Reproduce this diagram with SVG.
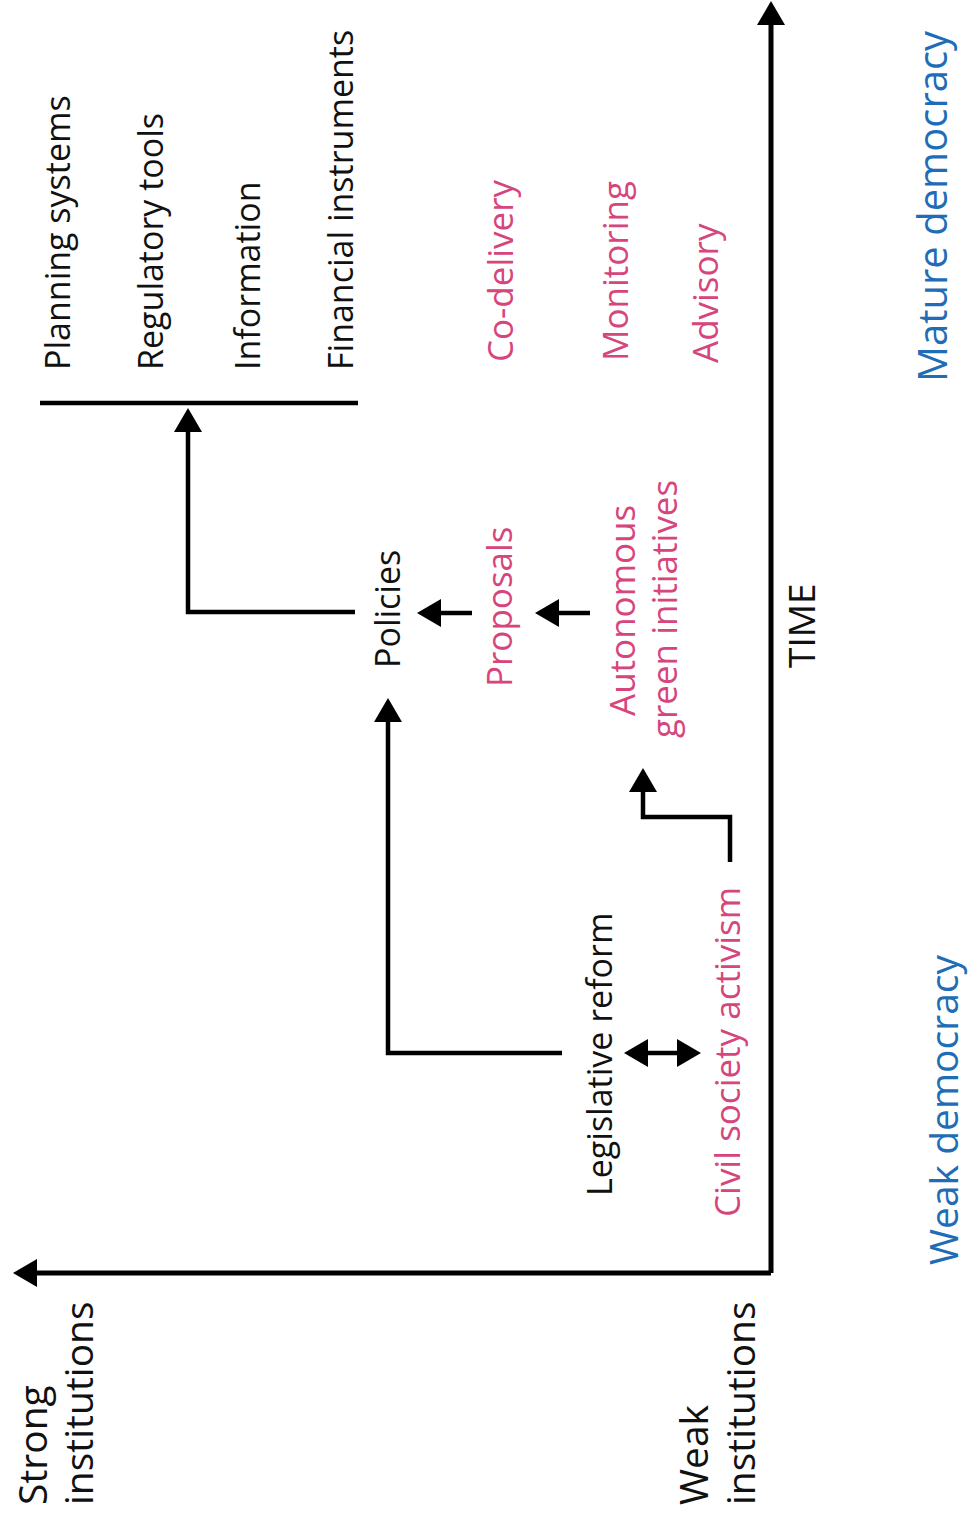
<svg xmlns="http://www.w3.org/2000/svg" width="971" height="1528" viewBox="0 0 971 1528">
  <style>
    text { font-family: "Open Sans", "Noto Sans", "Liberation Sans", sans-serif; }
    .blk { fill: #111111; font-size: 34px; }
    .pnk { fill: #d6457c; font-size: 35px; }
    .blu { fill: #1f6db6; font-size: 39px; }
    .ax { fill: #111111; font-size: 39px; }
    .conn { fill: none; stroke: #000000; stroke-width: 4.5; stroke-linejoin: miter; }
    .axis { fill: none; stroke: #000000; stroke-width: 5; }
  </style>
  <defs>
    <marker id="ah" viewBox="0 0 24 28" refX="0" refY="14" markerWidth="24" markerHeight="28" markerUnits="userSpaceOnUse" orient="auto-start-reverse">
      <path d="M0,0 L24,14 L0,28 z" fill="#000000"/>
    </marker>
  </defs>
  <rect width="971" height="1528" fill="#ffffff"/>

  <g id="connectors">
    <path class="axis" d="M771,1273 V25" marker-end="url(#ah)"/>
    <path class="axis" d="M771,1273 H37" marker-end="url(#ah)"/>
    <path class="conn" d="M40,403 H358"/>
    <path class="conn" d="M355,612 H188 V432" marker-end="url(#ah)"/>
    <path class="conn" d="M472,613 H441" marker-end="url(#ah)"/>
    <path class="conn" d="M590,613 H559" marker-end="url(#ah)"/>
    <path class="conn" d="M562,1053 H388 V722" marker-end="url(#ah)"/>
    <path class="conn" d="M648,1053 H677" marker-start="url(#ah)" marker-end="url(#ah)"/>
    <path class="conn" d="M730,862 V817 H643 V792" marker-end="url(#ah)"/>
  </g>

  <g id="planning-systems"><text class="blk" transform="translate(70,370) rotate(-90)">Planning systems</text></g>
  <g id="regulatory-tools"><text class="blk" transform="translate(163,370) rotate(-90)">Regulatory tools</text></g>
  <g id="information"><text class="blk" transform="translate(260,370) rotate(-90)">Information</text></g>
  <g id="financial-instruments"><text class="blk" transform="translate(353,370) rotate(-90)">Financial instruments</text></g>

  <g id="policies"><text class="blk" transform="translate(400,668) rotate(-90)">Policies</text></g>
  <g id="legislative-reform"><text class="blk" transform="translate(612,1196) rotate(-90)">Legislative reform</text></g>

  <g id="co-delivery"><text class="pnk" transform="translate(513,362) rotate(-90)">Co-delivery</text></g>
  <g id="monitoring"><text class="pnk" transform="translate(628,361) rotate(-90)">Monitoring</text></g>
  <g id="advisory"><text class="pnk" transform="translate(718,363) rotate(-90)">Advisory</text></g>
  <g id="proposals"><text class="pnk" transform="translate(512,687) rotate(-90)">Proposals</text></g>
  <g id="autonomous-green-initiatives">
    <text class="pnk" transform="translate(635,716) rotate(-90)">Autonomous</text>
    <text class="pnk" transform="translate(677,738) rotate(-90)">green initiatives</text>
  </g>
  <g id="civil-society-activism"><text class="pnk" transform="translate(740,1217) rotate(-90)">Civil society activism</text></g>

  <g id="time"><text class="blk" style="font-size:37px" transform="translate(815,668) rotate(-90)">TIME</text></g>

  <g id="mature-democracy"><text class="blu" style="font-size:40px" transform="translate(947,382) rotate(-90)">Mature democracy</text></g>
  <g id="weak-democracy"><text class="blu" transform="translate(958,1265) rotate(-90)">Weak democracy</text></g>

  <g id="strong-institutions">
    <text class="ax" transform="translate(47,1505) rotate(-90)">Strong</text>
    <text class="ax" transform="translate(93,1505) rotate(-90)">institutions</text>
  </g>
  <g id="weak-institutions">
    <text class="ax" transform="translate(708,1505) rotate(-90)">Weak</text>
    <text class="ax" transform="translate(755,1505) rotate(-90)">institutions</text>
  </g>
</svg>
